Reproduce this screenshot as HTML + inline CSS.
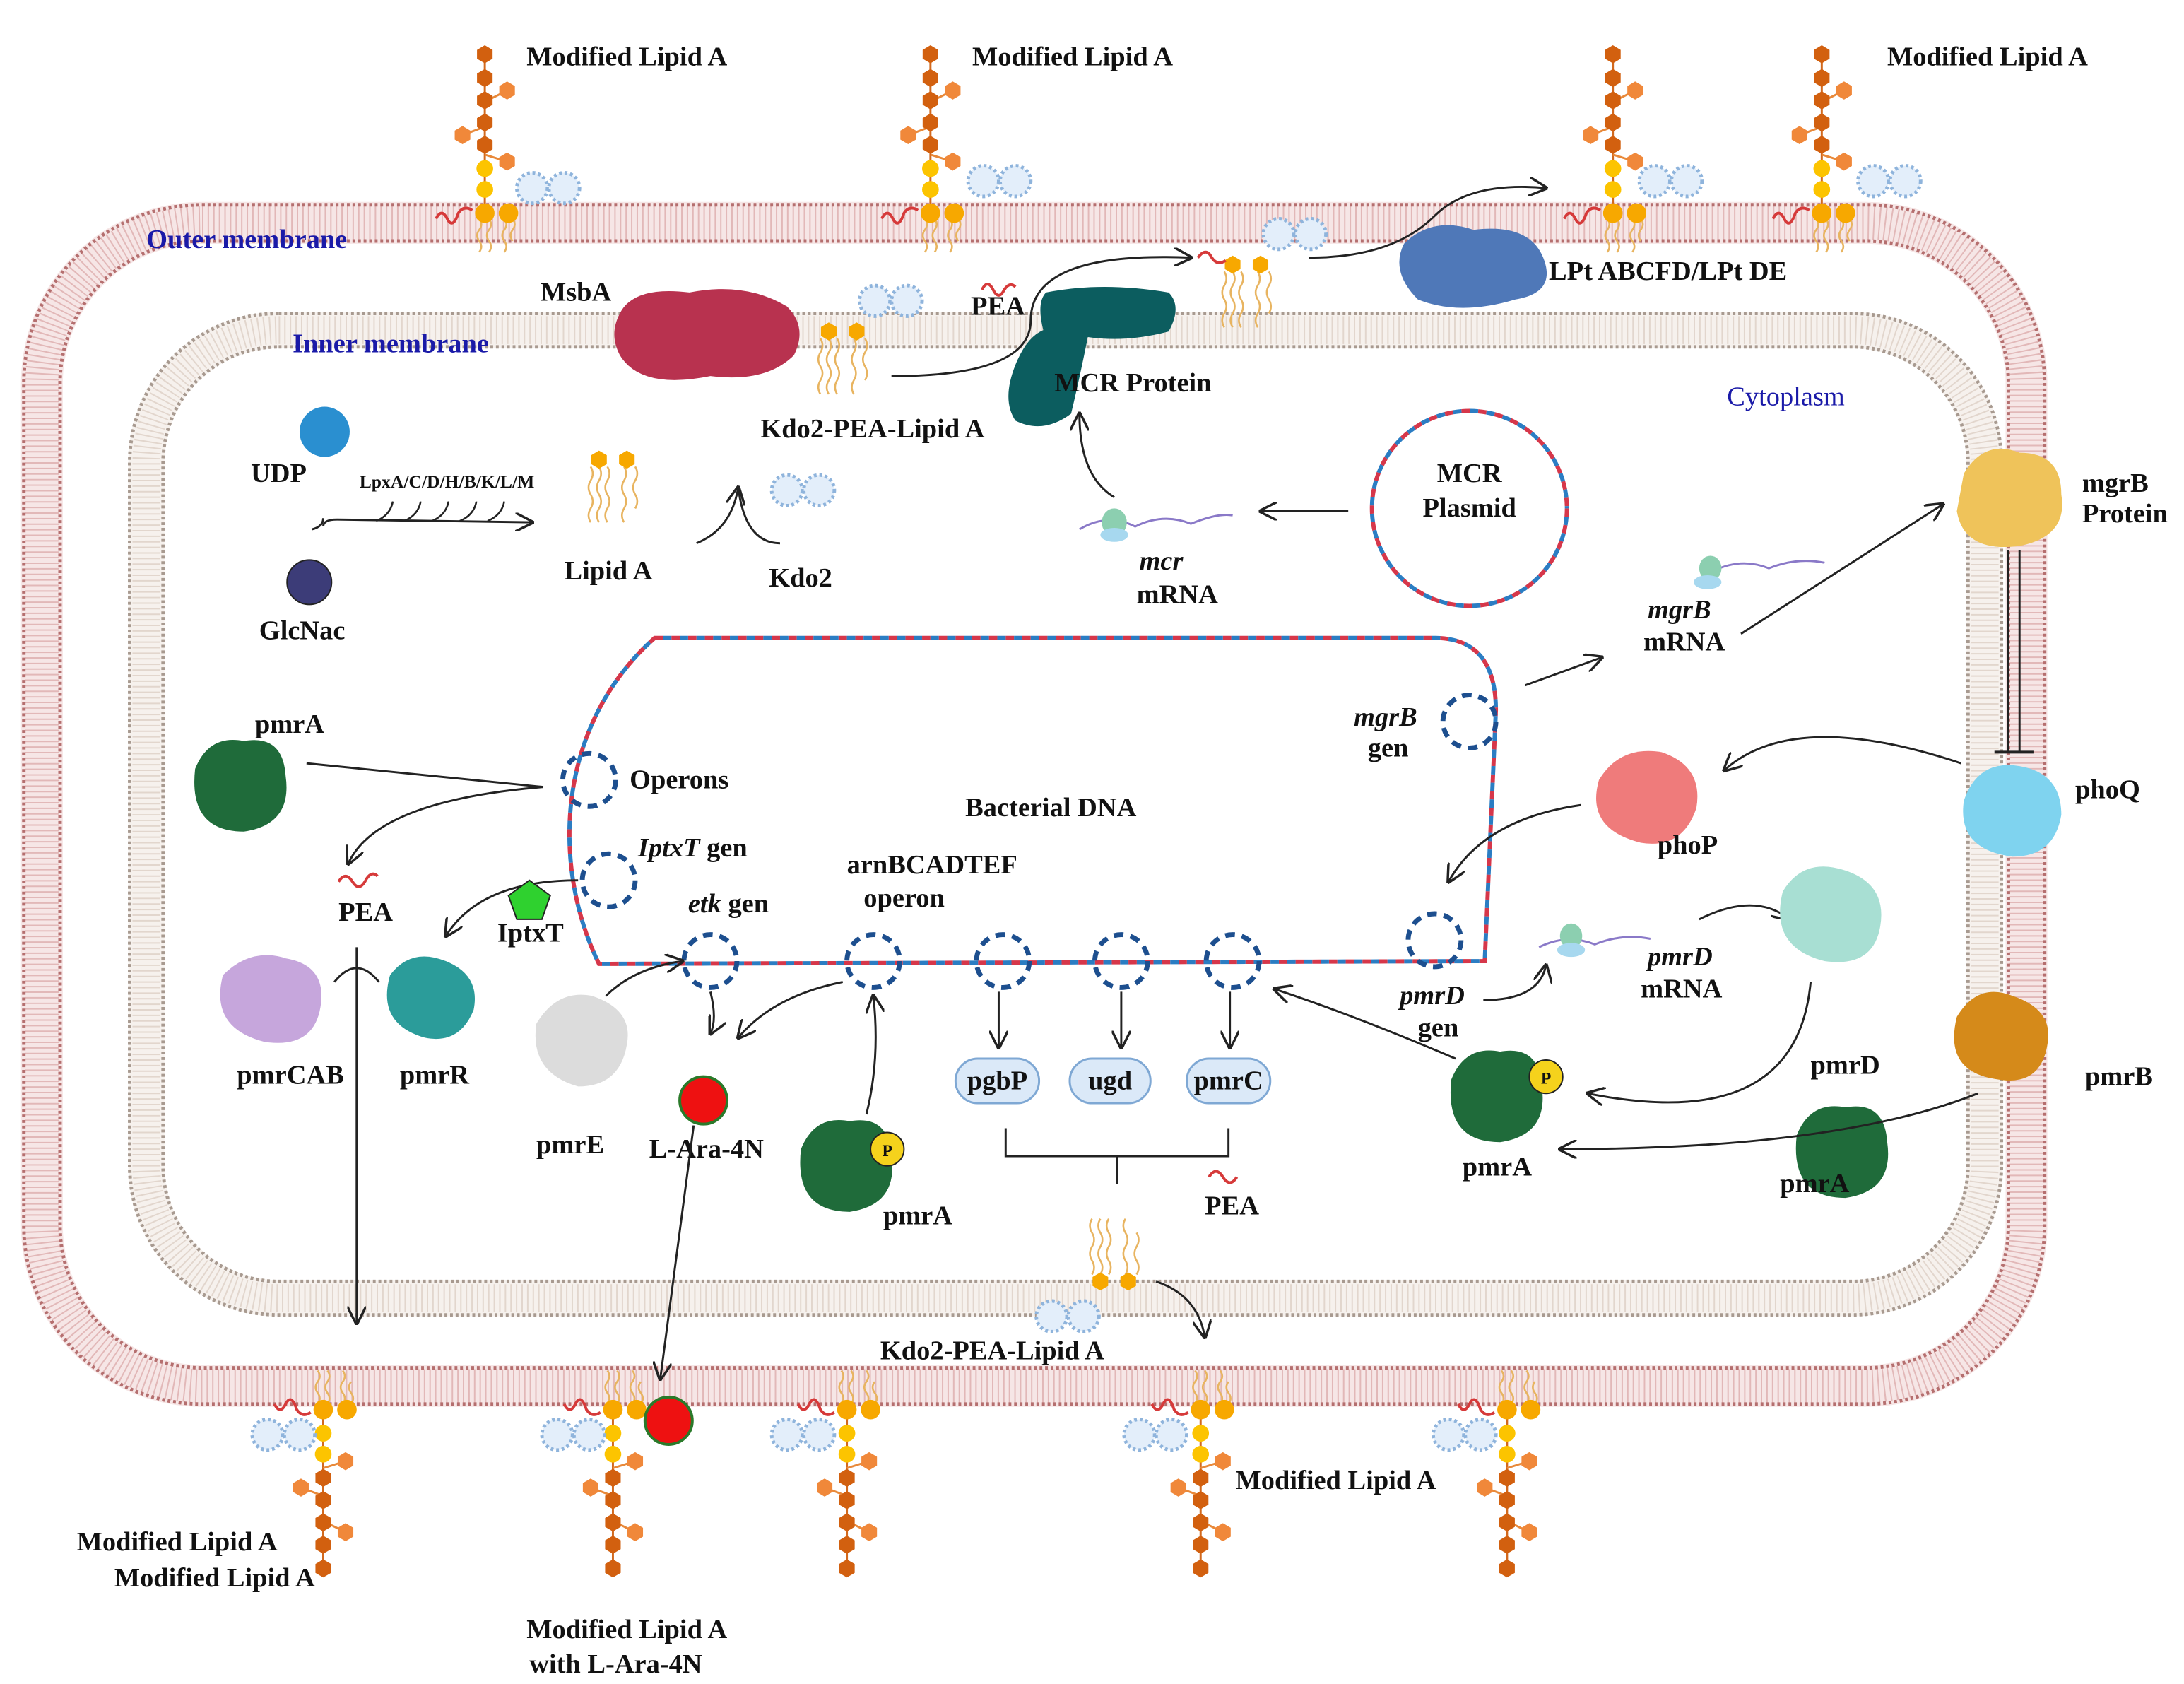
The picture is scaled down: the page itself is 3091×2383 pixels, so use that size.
<!DOCTYPE html>
<html><head><meta charset="utf-8"><style>html,body{margin:0;padding:0;background:#fff}svg{display:block}
text{font-family:"Liberation Serif",serif;font-weight:bold;font-size:19.5px;fill:#111}
.b{fill:#1a1aa8}.s{font-size:13px}.i{font-style:italic}</style></head><body>
<svg width="3091" height="2383" viewBox="0 0 1568 1209" xmlns="http://www.w3.org/2000/svg">
<defs>
<marker id="ar" viewBox="0 0 10 10" refX="9" refY="5" markerWidth="9" markerHeight="9" orient="auto"><path d="M0,0 L10,5 L0,10" fill="none" stroke="#222" stroke-width="1.3"/></marker>
<g id="hx"><polygon points="0,-6.5 5.6,-3.2 5.6,3.2 0,6.5 -5.6,3.2 -5.6,-3.2"/></g>
<g id="lipU">
 <g stroke="#e8b460" stroke-width="1.3" fill="none">
  <path d="M-4,4 q3,4 0,8 q-3,4 0,8 q3,4 0,8"/><path d="M3,4 q3,4 0,8 q-3,4 0,8 q3,4 0,8"/>
  <path d="M14,4 q3,4 0,8 q-3,4 0,8 q3,4 0,8"/><path d="M20,4 q3,4 0,8 q-3,4 0,8"/></g>
 <path d="M-35,4 q4,-8 8,0 q4,8 8,-4 q4,-6 10,-2" stroke="#d63a3a" stroke-width="2" fill="none"/>
 <line x1="0" y1="0" x2="0" y2="-116" stroke="#d2691e" stroke-width="1.5"/>
 <line x1="0" y1="-80" x2="16" y2="-88" stroke="#e8893a" stroke-width="1.5"/><line x1="0" y1="-62" x2="-16" y2="-56" stroke="#e8893a" stroke-width="1.5"/><line x1="0" y1="-42" x2="16" y2="-37" stroke="#e8893a" stroke-width="1.5"/>
 <circle cx="0" cy="0" r="7" fill="#f7a800"/><circle cx="17" cy="0" r="7" fill="#f7a800"/>
 <circle cx="0" cy="-17" r="6" fill="#fcc400"/><circle cx="0" cy="-32" r="6" fill="#fcc400"/>
 <g fill="#d2600f"><use href="#hx" y="-49"/><use href="#hx" y="-65"/><use href="#hx" y="-81"/><use href="#hx" y="-97"/><use href="#hx" y="-114"/></g>
 <g fill="#f0883a"><use href="#hx" x="16" y="-37"/><use href="#hx" x="-16" y="-56"/><use href="#hx" x="16" y="-88"/></g>
</g>
<g id="lipD"><use href="#lipU" transform="scale(1,-1)"/></g>
<g id="kdo"><circle r="11" fill="#e3eefa" stroke="#8fb4dc" stroke-width="2.5" stroke-dasharray="2 2"/><circle cx="23" r="11" fill="#e3eefa" stroke="#8fb4dc" stroke-width="2.5" stroke-dasharray="2 2"/></g>
<g id="lipI"><g stroke="#e8b460" stroke-width="1.3" fill="none">
  <path d="M-6,5 q3,5 0,10 q-3,5 0,10 q3,5 0,10 q-3,5 0,10"/><path d="M0,5 q3,5 0,10 q-3,5 0,10 q3,5 0,10 q-3,5 0,10"/>
  <path d="M6,5 q3,5 0,10 q-3,5 0,10 q3,5 0,10 q-3,5 0,10"/><path d="M18,5 q3,5 0,10 q-3,5 0,10 q3,5 0,10 q-3,5 0,10"/><path d="M26,5 q3,5 0,10 q-3,5 0,10 q3,5 0,10"/></g>
 <g fill="#f7a800"><use href="#hx" x="0"/><use href="#hx" x="20"/></g></g>
<g id="dc"><circle r="19" fill="none" stroke="#1d4f8f" stroke-width="3.5" stroke-dasharray="7 5"/></g>
</defs>
<rect width="1568" height="1209" fill="#fff"/>
<!-- outer membrane -->
<rect x="30" y="160" width="1425" height="835" rx="115" fill="none" stroke="#f6e6e6" stroke-width="30"/>
<rect x="30" y="160" width="1425" height="835" rx="115" fill="none" stroke="#e2b8b8" stroke-width="24" stroke-dasharray="1 3"/>
<rect x="17" y="147" width="1451" height="861" rx="128" fill="none" stroke="#b56f6f" stroke-width="2.5" stroke-dasharray="2 2"/>
<rect x="43" y="173" width="1399" height="809" rx="102" fill="none" stroke="#b56f6f" stroke-width="2.5" stroke-dasharray="2 2"/>
<!-- inner membrane -->
<rect x="105" y="237" width="1320" height="695" rx="95" fill="none" stroke="#f6f1ed" stroke-width="26"/>
<rect x="105" y="237" width="1320" height="695" rx="95" fill="none" stroke="#e2d6cd" stroke-width="20" stroke-dasharray="1 3"/>
<rect x="93" y="225" width="1344" height="719" rx="107" fill="none" stroke="#a89a90" stroke-width="2.5" stroke-dasharray="2 2"/>
<rect x="117" y="249" width="1296" height="671" rx="83" fill="none" stroke="#a89a90" stroke-width="2.5" stroke-dasharray="2 2"/>
<text x="105" y="178" class="b">Outer membrane</text>
<text x="210" y="253" class="b">Inner membrane</text>
<text x="1240" y="291" class="b" style="font-weight:normal">Cytoplasm</text>
<!-- top lipids -->
<use href="#lipU" x="348" y="153"/><use href="#kdo" x="382" y="135"/>
<use href="#lipU" x="668" y="153"/><use href="#kdo" x="706" y="130"/>
<use href="#lipU" x="1158" y="153"/><use href="#kdo" x="1188" y="130"/>
<use href="#lipU" x="1308" y="153"/><use href="#kdo" x="1345" y="130"/>
<text x="378" y="47">Modified Lipid A</text><text x="698" y="47">Modified Lipid A</text><text x="1355" y="47">Modified Lipid A</text>
<!-- MsbA -->
<path d="M445,225 q10,-20 50,-15 q40,-8 70,10 q15,15 5,35 q-20,20 -60,15 q-50,10 -65,-15 q-8,-15 0,-30z" fill="#b8324f"/>
<text x="388" y="216">MsbA</text>
<use href="#lipI" x="595" y="238"/><use href="#kdo" x="628" y="216"/>
<text x="546" y="314">Kdo2-PEA-Lipid A</text>
<text x="697" y="226">PEA</text><path d="M705,208 q4,-8 8,0 q4,8 8,0 q4,-6 8,-2" stroke="#d63a3a" stroke-width="2" fill="none"/>
<path d="M751,210 q40,-8 88,0 q10,10 0,28 q-30,8 -58,4 q-6,30 -12,55 q-20,15 -40,5 q-10,-15 0,-40 q8,-20 20,-25 q-5,-20 2,-27z" fill="#0c5d5f"/>
<text x="757" y="281">MCR Protein</text>
<path d="M640,270 q100,0 100,-40 q0,-50 115,-45" fill="none" stroke="#222" stroke-width="1.5" marker-end="url(#ar)"/>
<use href="#lipI" x="885" y="190"/><use href="#kdo" x="918" y="168"/>
<path d="M860,185 q6,-8 10,0 q4,6 10,2" stroke="#d63a3a" stroke-width="2" fill="none"/>
<path d="M940,185 q60,0 90,-30 q25,-25 80,-20" fill="none" stroke="#222" stroke-width="1.5" marker-end="url(#ar)"/>
<path d="M1008,175 q20,-20 50,-10 q40,-5 50,20 q10,25 -20,30 q-40,12 -70,0 q-20,-20 -10,-40z" fill="#4f78b8"/>
<text x="1112" y="201">LPt ABCFD/LPt DE</text>
<!-- UDP glcnac -->
<circle cx="233" cy="310" r="18" fill="#2a8fd0"/><text x="180" y="346">UDP</text>
<circle cx="222" cy="418" r="16" fill="#3c3c78" stroke="#222"/><text x="186" y="459">GlcNac</text>
<text x="258" y="350" class="s">LpxA/C/D/H/B/K/L/M</text>
<path d="M232,378 q0,-5 10,-5 L382,375" fill="none" stroke="#222" stroke-width="1.5" marker-end="url(#ar)"/>
<path d="M232,372 q0,6 -8,8" fill="none" stroke="#222" stroke-width="1.5"/>
<path d="M270,374 q10,-4 12,-14 M290,374 q10,-4 12,-14 M310,374 q10,-4 12,-14 M330,374 q10,-4 12,-14 M350,374 q10,-4 12,-14" fill="none" stroke="#222" stroke-width="1.3"/>
<use href="#lipI" x="430" y="330"/><text x="405" y="416">Lipid A</text>
<path d="M500,390 q25,-10 30,-40" fill="none" stroke="#222" stroke-width="1.5" marker-end="url(#ar)"/>
<path d="M530,350 q5,40 30,40" fill="none" stroke="#222" stroke-width="1.5"/>
<use href="#kdo" x="565" y="352"/><text x="552" y="421">Kdo2</text>
<!-- plasmid -->
<circle cx="1055" cy="365" r="70" fill="none" stroke="#d6374a" stroke-width="3" stroke-dasharray="6 6"/>
<circle cx="1055" cy="365" r="70" fill="none" stroke="#2b7dc3" stroke-width="3" stroke-dasharray="6 6" stroke-dashoffset="6"/>
<text x="1055" y="346" text-anchor="middle">MCR</text><text x="1055" y="371" text-anchor="middle">Plasmid</text>
<line x1="968" y1="367" x2="905" y2="367" stroke="#222" stroke-width="1.5" marker-end="url(#ar)"/>
<path d="M775,380 q20,-12 40,-2 q20,-10 40,-2 q20,-8 30,-6" fill="none" stroke="#8a79c8" stroke-width="1.5"/>
<ellipse cx="800" cy="375" rx="9" ry="10" fill="#8ccfb0"/><ellipse cx="800" cy="384" rx="10" ry="5" fill="#a7d8ef"/>
<text x="818" y="409" class="i">mcr</text><text x="816" y="433">mRNA</text>
<path d="M800,357 q-25,-15 -25,-60" fill="none" stroke="#222" stroke-width="1.5" marker-end="url(#ar)"/>
<!-- mgrB -->
<path d="M1410,340 q15,-25 40,-15 q30,0 30,30 q5,30 -30,37 q-40,5 -45,-25z" fill="#efc35a"/>
<text x="1495" y="353">mgrB</text><text x="1495" y="375">Protein</text>
<path d="M1230,410 q20,-10 40,-2 q20,-8 40,-4" fill="none" stroke="#8a79c8" stroke-width="1.5"/>
<ellipse cx="1228" cy="408" rx="8" ry="9" fill="#8ccfb0"/><ellipse cx="1226" cy="418" rx="10" ry="5" fill="#a7d8ef"/>
<text x="1183" y="444" class="i">mgrB</text><text x="1180" y="467">mRNA</text>
<line x1="1250" y1="455" x2="1395" y2="362" stroke="#222" stroke-width="1.5" marker-end="url(#ar)"/>
<line x1="1095" y1="492" x2="1150" y2="472" stroke="#222" stroke-width="1.5" marker-end="url(#ar)"/>
<line x1="1442" y1="395" x2="1442" y2="540" stroke="#222" stroke-width="1.5"/><line x1="1450" y1="395" x2="1450" y2="540" stroke="#222" stroke-width="1.5"/>
<line x1="1432" y1="540" x2="1460" y2="540" stroke="#222" stroke-width="2"/>
<!-- DNA loop -->
<path id="dna" d="M470,458 L1030,458 Q1074,458 1074,510 L1066,690 L430,692 C395,620 400,520 470,458Z" fill="none" stroke="#d6374a" stroke-width="3" stroke-dasharray="6 6"/>
<path d="M470,458 L1030,458 Q1074,458 1074,510 L1066,690 L430,692 C395,620 400,520 470,458Z" fill="none" stroke="#2b7dc3" stroke-width="3" stroke-dasharray="6 6" stroke-dashoffset="6"/>
<text x="693" y="586">Bacterial DNA</text>
<use href="#dc" x="423" y="560"/><use href="#dc" x="437" y="632"/><use href="#dc" x="510" y="690"/><use href="#dc" x="627" y="690"/>
<use href="#dc" x="720" y="690"/><use href="#dc" x="805" y="690"/><use href="#dc" x="885" y="690"/><use href="#dc" x="1055" y="518"/><use href="#dc" x="1030" y="675"/>
<text x="452" y="566">Operons</text><text x="458" y="615"><tspan class="i">IptxT</tspan> gen</text>
<text x="494" y="655"><tspan class="i">etk</tspan> gen</text><text x="608" y="627">arnBCADTEF</text><text x="620" y="651">operon</text>
<text x="972" y="521" class="i">mgrB</text><text x="982" y="543">gen</text>
<text x="1005" y="721" class="i">pmrD</text><text x="1018" y="744">gen</text>
<!-- left proteins -->
<path d="M140,552 q10,-25 35,-20 q28,-5 30,25 q5,35 -30,40 q-40,0 -35,-45z" fill="#1f6b3a"/><text x="183" y="526">pmrA</text>
<path d="M220,548 L390,565" fill="none" stroke="#222" stroke-width="1.5"/>
<path d="M390,565 q-120,10 -140,55" fill="none" stroke="#222" stroke-width="1.5" marker-end="url(#ar)"/>
<path d="M243,633 q5,-8 10,0 q5,8 10,-2 q4,-6 8,-2" stroke="#d63a3a" stroke-width="2" fill="none"/><text x="243" y="661">PEA</text>
<path d="M415,632 q-70,0 -95,40" fill="none" stroke="#222" stroke-width="1.5" marker-end="url(#ar)"/>
<polygon points="380,632 395,643 389,660 371,660 365,643" fill="#2fd12f" stroke="#222"/><text x="357" y="676">IptxT</text>
<path d="M160,700 q20,-20 45,-12 q30,5 25,35 q-5,30 -40,25 q-40,-10 -30,-48z" fill="#c6a6dc"/><text x="170" y="778">pmrCAB</text>
<path d="M280,700 q15,-20 40,-10 q25,10 20,35 q-10,25 -35,20 q-35,-10 -25,-45z" fill="#2b9c9a"/><text x="287" y="778">pmrR</text>
<line x1="256" y1="680" x2="256" y2="950" stroke="#222" stroke-width="1.5" marker-end="url(#ar)"/>
<path d="M240,705 q16,-20 32,0" fill="none" stroke="#222" stroke-width="1.5"/>
<path d="M385,735 q15,-25 40,-20 q30,10 25,35 q-5,30 -35,30 q-35,-10 -30,-45z" fill="#dcdcdc"/><text x="385" y="828">pmrE</text>
<path d="M435,715 q20,-20 55,-25" fill="none" stroke="#222" stroke-width="1.5" marker-end="url(#ar)"/>
<path d="M510,712 q5,20 0,30" fill="none" stroke="#222" stroke-width="1.5" marker-end="url(#ar)"/>
<path d="M605,705 q-50,10 -75,40" fill="none" stroke="#222" stroke-width="1.5" marker-end="url(#ar)"/>
<circle cx="505" cy="790" r="17" fill="#ee1111" stroke="#2a7a2a" stroke-width="2"/><text x="466" y="831">L-Ara-4N</text>
<line x1="498" y1="808" x2="474" y2="990" stroke="#222" stroke-width="1.5" marker-end="url(#ar)"/>
<path d="M575,825 q10,-25 35,-20 q28,-5 30,25 q5,35 -30,40 q-40,0 -35,-45z" fill="#1f6b3a"/>
<circle cx="637" cy="825" r="12" fill="#f5d21c" stroke="#222"/><text x="637" y="830" text-anchor="middle" style="font-size:12px">P</text>
<text x="634" y="879">pmrA</text>
<path d="M622,800 q10,-40 5,-85" fill="none" stroke="#222" stroke-width="1.5" marker-end="url(#ar)"/>
<!-- boxes -->
<g fill="#dbe9f8" stroke="#7fa8d4" stroke-width="1.5"><rect x="686" y="760" width="60" height="32" rx="16"/><rect x="768" y="760" width="58" height="32" rx="16"/><rect x="852" y="760" width="60" height="32" rx="16"/></g>
<text x="716" y="782" text-anchor="middle">pgbP</text><text x="797" y="782" text-anchor="middle">ugd</text><text x="882" y="782" text-anchor="middle">pmrC</text>
<g stroke="#222" stroke-width="1.5" fill="none" marker-end="url(#ar)"><line x1="717" y1="712" x2="717" y2="752"/><line x1="805" y1="712" x2="805" y2="752"/><line x1="883" y1="712" x2="883" y2="752"/></g>
<path d="M722,810 L722,830 L882,830 L882,810 M802,830 L802,850" fill="none" stroke="#222" stroke-width="1.5"/>
<path d="M868,845 q5,-8 10,0 q5,8 10,0" stroke="#d63a3a" stroke-width="2" fill="none"/><text x="865" y="872">PEA</text>
<use href="#lipI" x="790" y="920" transform="translate(0,1840) scale(1,-1)"/>
<use href="#kdo" x="755" y="945"/>
<path d="M830,920 q30,10 35,40" fill="none" stroke="#222" stroke-width="1.5" marker-end="url(#ar)"/>
<text x="632" y="976">Kdo2-PEA-Lipid A</text>
<!-- right proteins -->
<path d="M1410,575 q10,-30 40,-25 q30,5 30,35 q-5,30 -35,30 q-40,-5 -35,-40z" fill="#7fd3ef"/><text x="1490" y="573">phoQ</text>
<path d="M1148,560 q15,-25 45,-20 q30,10 25,40 q-10,30 -40,25 q-40,-10 -30,-45z" fill="#ef7b7b"/><text x="1190" y="613">phoP</text>
<path d="M1408,548 q-120,-40 -170,5" fill="none" stroke="#222" stroke-width="1.5" marker-end="url(#ar)"/>
<path d="M1135,578 q-70,10 -95,55" fill="none" stroke="#222" stroke-width="1.5" marker-end="url(#ar)"/>
<path d="M1105,680 q20,-10 40,-2 q20,-8 40,-4" fill="none" stroke="#8a79c8" stroke-width="1.5"/>
<ellipse cx="1128" cy="672" rx="8" ry="9" fill="#8ccfb0"/><ellipse cx="1128" cy="682" rx="10" ry="5" fill="#a7d8ef"/>
<text x="1183" y="693" class="i">pmrD</text><text x="1178" y="716">mRNA</text>
<path d="M1065,718 q40,0 45,-25" fill="none" stroke="#222" stroke-width="1.5" marker-end="url(#ar)"/>
<path d="M1220,660 q40,-20 65,0" fill="none" stroke="#222" stroke-width="1.5" marker-end="url(#ar)"/>
<path d="M1280,640 q15,-25 45,-15 q30,10 25,40 q-5,30 -40,25 q-40,-10 -30,-50z" fill="#a8dfd3"/><text x="1300" y="771">pmrD</text>
<path d="M1300,705 q-10,110 -160,80" fill="none" stroke="#222" stroke-width="1.5" marker-end="url(#ar)"/>
<path d="M1042,775 q10,-25 35,-20 q28,-5 30,25 q5,35 -30,40 q-40,0 -35,-45z" fill="#1f6b3a"/>
<circle cx="1110" cy="773" r="12" fill="#f5d21c" stroke="#222"/><text x="1110" y="778" text-anchor="middle" style="font-size:12px">P</text>
<text x="1050" y="844">pmrA</text>
<path d="M1045,760 q-70,-30 -130,-50" fill="none" stroke="#222" stroke-width="1.5" marker-end="url(#ar)"/>
<path d="M1405,730 q15,-25 40,-15 q30,10 25,35 q-5,30 -35,25 q-40,-5 -30,-45z" fill="#d58a1a"/><text x="1497" y="779">pmrB</text>
<path d="M1290,815 q10,-25 35,-20 q28,-5 30,25 q5,35 -30,40 q-40,0 -35,-45z" fill="#1f6b3a"/><text x="1278" y="856">pmrA</text>
<path d="M1420,785 q-100,40 -300,40" fill="none" stroke="#222" stroke-width="1.5" marker-end="url(#ar)"/>
<!-- bottom lipids -->
<use href="#lipD" x="232" y="1012"/><use href="#kdo" x="192" y="1030"/>
<use href="#lipD" x="440" y="1012"/><use href="#kdo" x="400" y="1030"/>
<circle cx="480" cy="1020" r="17" fill="#ee1111" stroke="#2a7a2a" stroke-width="2"/>
<use href="#lipD" x="608" y="1012"/><use href="#kdo" x="565" y="1030"/>
<use href="#lipD" x="862" y="1012"/><use href="#kdo" x="818" y="1030"/>
<use href="#lipD" x="1082" y="1012"/><use href="#kdo" x="1040" y="1030"/>
<text x="55" y="1113">Modified Lipid A</text><text x="82" y="1139">Modified Lipid A</text>
<text x="378" y="1176">Modified Lipid A</text><text x="380" y="1201">with L-Ara-4N</text>
<text x="887" y="1069">Modified Lipid A</text>
</svg></body></html>
